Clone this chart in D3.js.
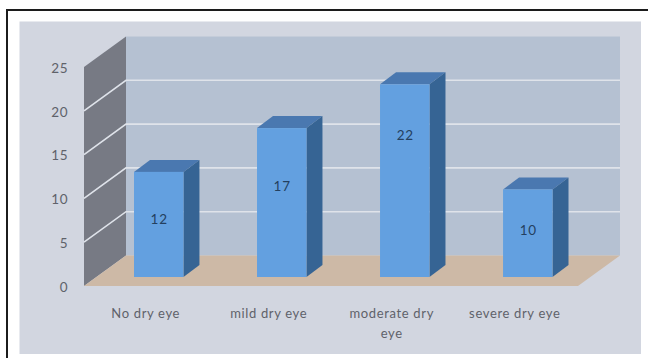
<!DOCTYPE html>
<html>
<head>
<meta charset="utf-8">
<script src="https://cdn.jsdelivr.net/npm/d3@7"></script>
<style>
html,body{margin:0;padding:0;background:#fff}
svg{display:block}
text{font-family:Lato,"Open Sans",sans-serif}
</style>
</head>
<body>
<svg id="chart" width="648" height="358"></svg>
<script>
// Dry eye severity counts
const categories = [["No dry eye"], ["mild dry eye"], ["moderate dry", "eye"], ["severe dry eye"]];
const counts = [12, 17, 22, 10];
const yTicks = [0, 5, 10, 15, 20, 25];
// Height of each value label as a share of its bar
const labelHeights = [0.55, 0.61, 0.735, 0.535];

const svg = d3.select("#chart");

// Front plane of the 3D box
const y = d3.scaleLinear().domain([0, 25]).range([286, 67]);
const x = d3.scaleBand().domain(d3.range(counts.length)).range([134, 552.5]).paddingInner(0.598).paddingOuter(0);
const xLeft = 84, xRight = 578;
const depth = { dx: 42, dy: -30.5 };      // wall depth
const barDepth = { dx: 16, dy: -12 };     // bar depth
const barBase = y(0) - 9;                 // bars stand back from the front edge

const poly = pts => pts.map(p => p.join(",")).join(" ");

// Outer frame and panel
svg.append("rect").attr("x", 7).attr("y", 10).attr("width", 650).attr("height", 360)
  .attr("fill", "#fff").attr("stroke", "#1c1c1c").attr("stroke-width", 2);
svg.append("rect").attr("x", 19.5).attr("y", 21.5).attr("width", 621.5).attr("height", 332.5).attr("fill", "#d2d6e0");

// Back wall
svg.append("rect")
  .attr("x", xLeft + depth.dx).attr("y", y(25) + depth.dy)
  .attr("width", xRight - xLeft).attr("height", y(0) - y(25))
  .attr("fill", "#b5c1d2");

// Side wall
svg.append("polygon").attr("fill", "#777a84").attr("points", poly([
  [xLeft, y(0)], [xLeft + depth.dx, y(0) + depth.dy],
  [xLeft + depth.dx, y(25) + depth.dy], [xLeft, y(25)]
]));

// Floor
svg.append("polygon").attr("fill", "#cdb9a6").attr("points", poly([
  [xLeft, y(0)], [xLeft + depth.dx, y(0) + depth.dy],
  [xRight + depth.dx, y(0) + depth.dy], [xRight, y(0)]
]));

// Gridlines across both walls
const grid = svg.append("g").attr("fill", "none").attr("stroke", "#dfe3ea").attr("stroke-width", 1.6);
yTicks.filter(t => t > 0 && t < 25).forEach(t => {
  grid.append("polyline").attr("points", poly([
    [xLeft, y(t)], [xLeft + depth.dx, y(t) + depth.dy], [xRight + depth.dx, y(t) + depth.dy]
  ]));
});

// Value axis labels
svg.append("g").attr("fill", "#5f626a").attr("font-size", 13.5).attr("text-anchor", "end")
  .selectAll("text").data(yTicks).join("text")
  .attr("x", 68.5).attr("y", d => y(d) + 1).attr("dy", "0.35em").attr("letter-spacing", 0.8).text(d => d);

// Bars
const barTop = d => barBase - (y(0) - y(d));
const bw = x.bandwidth();
const bars = svg.append("g").selectAll("g").data(counts).join("g");

bars.append("polygon").attr("fill", "#4a78b0").attr("points", (d, i) => poly([
  [x(i), barTop(d)], [x(i) + bw, barTop(d)],
  [x(i) + bw + barDepth.dx, barTop(d) + barDepth.dy],
  [x(i) + barDepth.dx, barTop(d) + barDepth.dy]
]));
bars.append("polygon").attr("fill", "#366494").attr("points", (d, i) => poly([
  [x(i) + bw, barTop(d)], [x(i) + bw + barDepth.dx, barTop(d) + barDepth.dy],
  [x(i) + bw + barDepth.dx, barBase + barDepth.dy], [x(i) + bw, barBase]
]));
bars.append("rect").attr("fill", "#63a0e0")
  .attr("x", (d, i) => x(i)).attr("y", barTop).attr("width", bw).attr("height", d => barBase - barTop(d));

// Value labels inside the bars
bars.append("text").attr("fill", "#24405f").attr("font-size", 13.5).attr("text-anchor", "middle")
  .attr("letter-spacing", 0.8)
  .attr("x", (d, i) => x(i) + bw / 2 + 0.5)
  .attr("y", (d, i) => barBase - (barBase - barTop(d)) * labelHeights[i]).attr("dy", "0.35em")
  .text(d => d);

// Category labels, wrapped over two lines where needed
const labels = svg.append("g").attr("fill", "#5f626a").attr("font-size", 13).attr("text-anchor", "middle")
  .attr("letter-spacing", 0.65)
  .selectAll("text").data(categories).join("text")
  .attr("y", 318);
labels.each(function (lines, i) {
  d3.select(this).selectAll("tspan").data(lines).join("tspan")
    .attr("x", x(i) + bw / 2 - 13)
    .attr("dy", (l, k) => k ? 20 : 0)
    .text(l => l);
});
</script>
</body>
</html>
